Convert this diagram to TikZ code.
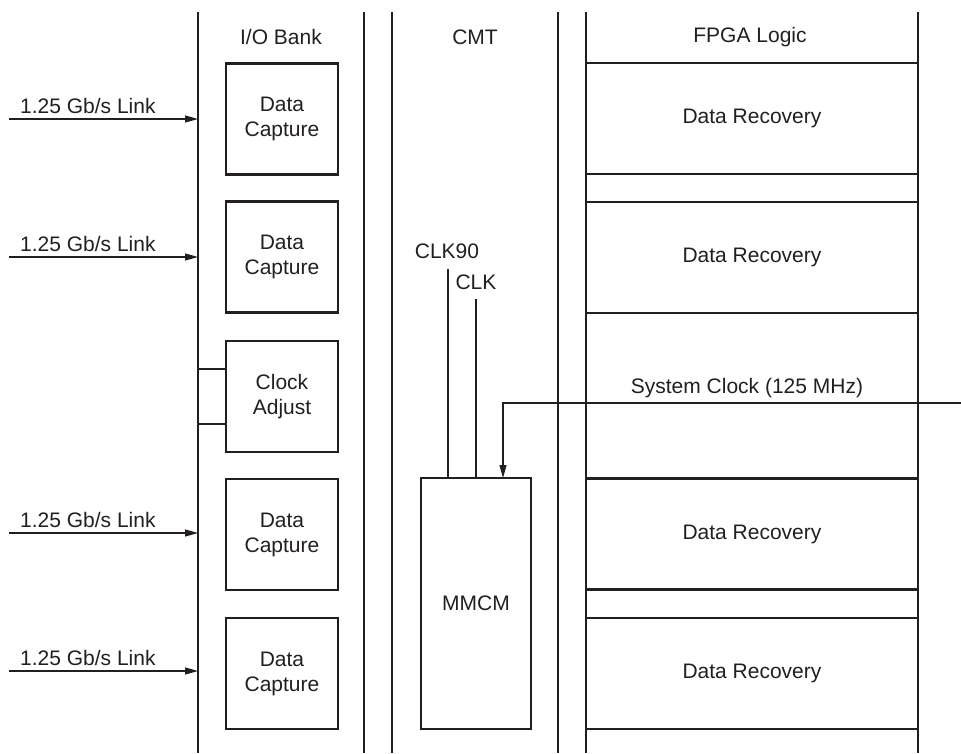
\documentclass[tikz,border=0pt]{standalone}
\usepackage{fontspec}
\setmainfont{Liberation Sans}
\usetikzlibrary{arrows.meta}
\definecolor{ink}{HTML}{231F20}
\begin{document}
\begin{tikzpicture}[x=1pt,y=-1pt,
  every node/.style={font=\fontsize{21}{25}\selectfont, text=ink},
  lane/.style={draw=ink, line width=2.4pt},
  block/.style={draw=ink, line width=2.4pt, inner sep=0pt, outer sep=0pt, align=center},
  capbox/.style={block, minimum width=112pt, minimum height=111pt},
  recbox/.style={block, minimum width=332pt, minimum height=111pt},
  wire/.style={draw=ink, line width=1.1pt},
  arr/.style={wire, -{Triangle[length=13pt,width=7pt]}},
  lbl/.style={inner sep=0pt}
]
\useasboundingbox (0,0) rectangle (961,753);

% column boundaries
\coordinate (ioL) at (198,12);
\coordinate (ioR) at (364,12);
\coordinate (cmtL) at (392,12);
\coordinate (cmtR) at (558,12);
\coordinate (fpL) at (586,12);
\coordinate (fpR) at (918,12);
\foreach \c in {ioL,ioR,cmtL,cmtR,fpL,fpR}
  \draw[lane] (\c) -- (\c |- 0,753);

% column titles
\node[lbl] (tio) at (281,37) {I/O Bank};
\node[lbl] (tcmt) at (475,37) {CMT};
\node[lbl] (tfp) at (750,37) {FPGA Logic};

% I/O bank blocks
\node[capbox] (dc1) at (282,119) {Data\\Capture};
\node[capbox] (dc2) at (282,257) {Data\\Capture};
\node[capbox] (ca)  at (282,396.5) {Clock\\Adjust};
\node[capbox] (dc3) at (282,534.5) {Data\\Capture};
\node[capbox] (dc4) at (282,673.5) {Data\\Capture};

% FPGA logic blocks
\node[recbox] (dr1) at (752,118.5) {Data Recovery};
\node[recbox] (dr2) at (752,257.5) {Data Recovery};
\node[recbox] (dr3) at (752,534) {Data Recovery};
\node[recbox] (dr4) at (752,673.5) {Data Recovery};
\draw[lane] (dr1.south west) -- (dr1.south east);
\draw[lane] (dr2.north west) -- (dr2.north east);

% clock management
\node[block, minimum width=110pt, minimum height=251pt] (mmcm) at (476,603.5) {MMCM};

% serial links
\foreach \n/\y in {1/119,2/257,3/533,4/671}{
  \coordinate (l\n) at (9,\y);
  \draw[arr] (l\n) -- (l\n -| ioL);
  \node[lbl, anchor=base west] (ll\n) at (20,\y-6) {1.25 Gb/s Link};
}

% clock adjust taps
\coordinate (ca1) at (198,369);
\coordinate (ca2) at (198,424);
\draw[wire] (ca1) -- (ca1 -| ca.west);
\draw[wire] (ca2) -- (ca2 -| ca.west);

% MMCM outputs
\node[lbl, anchor=base] (t90) at (447,258) {CLK90};
\node[lbl, anchor=base] (tclk) at (476,289) {CLK};
\coordinate (c90) at (448,269);
\coordinate (c0) at (476,299);
\draw[wire] (c90) -- (c90 |- mmcm.north);
\draw[wire] (c0) -- (c0 |- mmcm.north);

% system clock input
\node[lbl, anchor=base] (tsys) at (747,393) {System Clock (125 MHz)};
\coordinate (sc) at (961,403);
\draw[arr] (sc) -| ([xshift=27pt]mmcm.north);
\end{tikzpicture}
\end{document}
